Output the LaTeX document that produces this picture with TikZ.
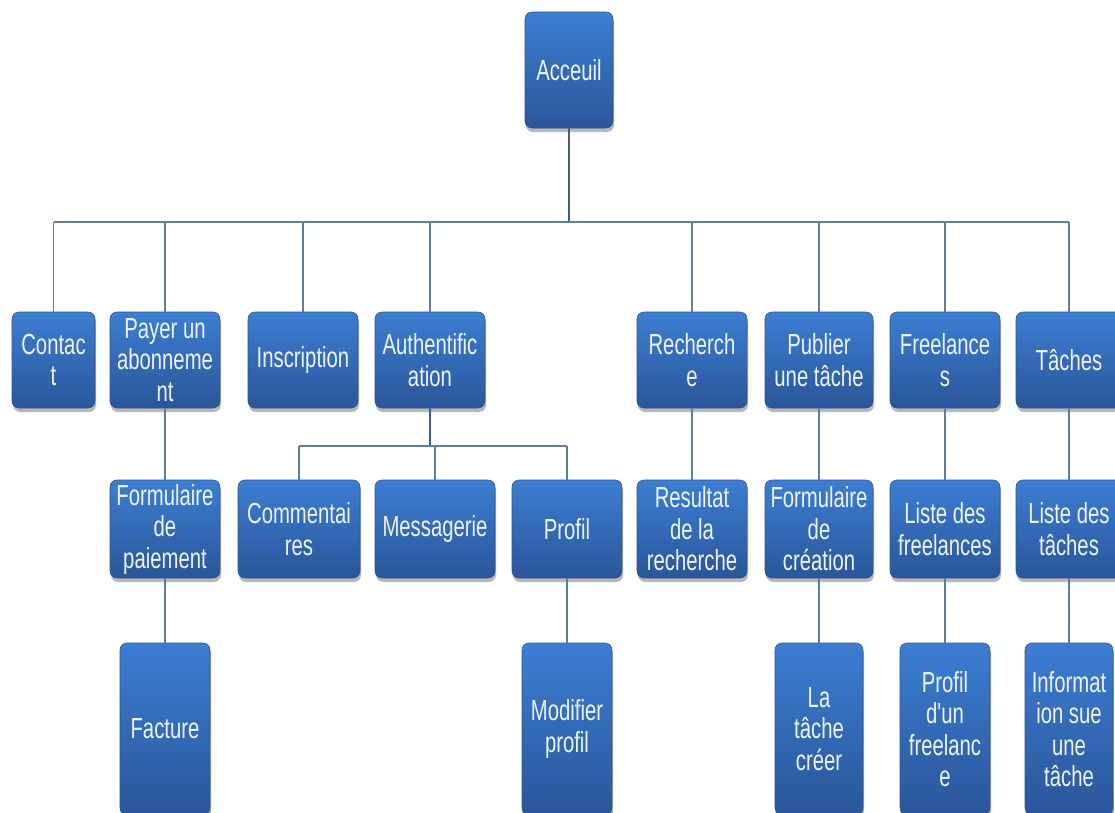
\documentclass[tikz,border=0pt]{standalone}
\usepackage{fontspec}
\usetikzlibrary{shadows}
\newfontfamily\boxfont[FakeStretch=0.70]{Liberation Sans}
\definecolor{boxtop}{HTML}{3C7ED3}
\definecolor{boxbot}{HTML}{2A5699}
\definecolor{boxedge}{HTML}{2B5592}
\definecolor{boxtext}{HTML}{EEF4FC}
\definecolor{wire}{HTML}{637C9C}
\definecolor{trunk}{HTML}{3D5E8E}
\tikzset{
  pagebox/.style={rounded corners=7pt, top color=boxtop, bottom color=boxbot,
    draw=boxedge, line width=0.6pt, text=boxtext, align=center, inner sep=1pt,
    font=\boxfont\fontsize{29}{31.5}\selectfont,
    drop shadow={shadow xshift=1pt, shadow yshift=-4pt, opacity=0.28, fill=black}},
  wireline/.style={draw=wire, line width=1.4pt},
  trunkline/.style={draw=trunk, line width=2.8pt}
}
\begin{document}
\begin{tikzpicture}[x=1pt, y=-1pt]
\useasboundingbox (0,0) rectangle (1115,812);
\clip (0,0) rectangle (1115,812);
\fill[white] (0,0) rectangle (1115,812);

% top level
\node[pagebox, minimum width=88pt, minimum height=116pt] (acc) at (569,70) {Acceuil};

% first level
\begin{scope}[every node/.append style={minimum height=96pt}]
\node[pagebox, minimum width=83pt]  (contact) at (53.5,360) {Contac\\t};
\node[pagebox, minimum width=110pt] (payer)   at (165,360)  {Payer un\\abonneme\\nt};
\node[pagebox, minimum width=110pt] (inscr)   at (303,360)  {Inscription};
\node[pagebox, minimum width=110pt] (auth)    at (430,360)  {Authentific\\ation};
\node[pagebox, minimum width=110pt] (rech)    at (692,360)  {Recherch\\e};
\node[pagebox, minimum width=108pt] (publ)    at (819,360)  {Publier\\une t\^ache};
\node[pagebox, minimum width=110pt] (free)    at (945,360)  {Freelance\\s};
\node[pagebox, minimum width=106pt] (tach)    at (1069,360) {T\^aches};
\end{scope}

% second level
\begin{scope}[every node/.append style={minimum height=98pt}]
\node[pagebox, minimum width=110pt] (formpay)  at (165,529)  {Formulaire\\de\\paiement};
\node[pagebox, minimum width=122pt] (comm)     at (299,529)  {Commentai\\res};
\node[pagebox, minimum width=120pt] (mess)     at (435,529)  {Messagerie};
\node[pagebox, minimum width=110pt] (profil)   at (567,529)  {Profil};
\node[pagebox, minimum width=110pt] (result)   at (692,529)  {Resultat\\de la\\recherche};
\node[pagebox, minimum width=108pt] (formcrea) at (819,529)  {Formulaire\\de\\cr\'eation};
\node[pagebox, minimum width=110pt] (listfree) at (945,529)  {Liste des\\freelances};
\node[pagebox, minimum width=106pt] (listtach) at (1069,529) {Liste des\\t\^aches};
\end{scope}

% third level
\begin{scope}[every node/.append style={minimum height=172pt}]
\node[pagebox, minimum width=90pt] (fact)     at (165,729)  {Facture};
\node[pagebox, minimum width=90pt] (modif)    at (567,729)  {Modifier\\profil};
\node[pagebox, minimum width=88pt] (tcree)    at (819,729)  {La\\t\^ache\\cr\'eer};
\node[pagebox, minimum width=90pt] (proffree) at (945,729)  {Profil\\d'un\\freelanc\\e};
\node[pagebox, minimum width=88pt] (info)     at (1069,729) {Informat\\ion sue\\une\\t\^ache};
\end{scope}

% bus levels
\coordinate (bus) at (0,222);
\coordinate (subbus) at (0,446);

% main tree
\draw[trunkline] (acc.south) -- (acc.south |- bus);
\draw[wireline] (contact.north |- bus) -- (tach.north |- bus);
\foreach \n in {contact,payer,inscr,auth,rech,publ,free,tach}
  \draw[wireline] (\n.north |- bus) -- (\n.north);

% authentication branch
\draw[trunkline] (auth.south) -- (auth.south |- subbus);
\draw[wireline] (comm.north |- subbus) -- (profil.north |- subbus);
\foreach \n in {comm,mess,profil}
  \draw[wireline] (\n.north |- subbus) -- (\n.north);

% vertical chains
\draw[wireline] (payer) -- (formpay);
\draw[wireline] (formpay) -- (fact);
\draw[wireline] (profil) -- (modif);
\draw[wireline] (rech) -- (result);
\draw[wireline] (publ) -- (formcrea);
\draw[wireline] (formcrea) -- (tcree);
\draw[wireline] (free) -- (listfree);
\draw[wireline] (listfree) -- (proffree);
\draw[wireline] (tach) -- (listtach);
\draw[wireline] (listtach) -- (info);
\end{tikzpicture}
\end{document}
